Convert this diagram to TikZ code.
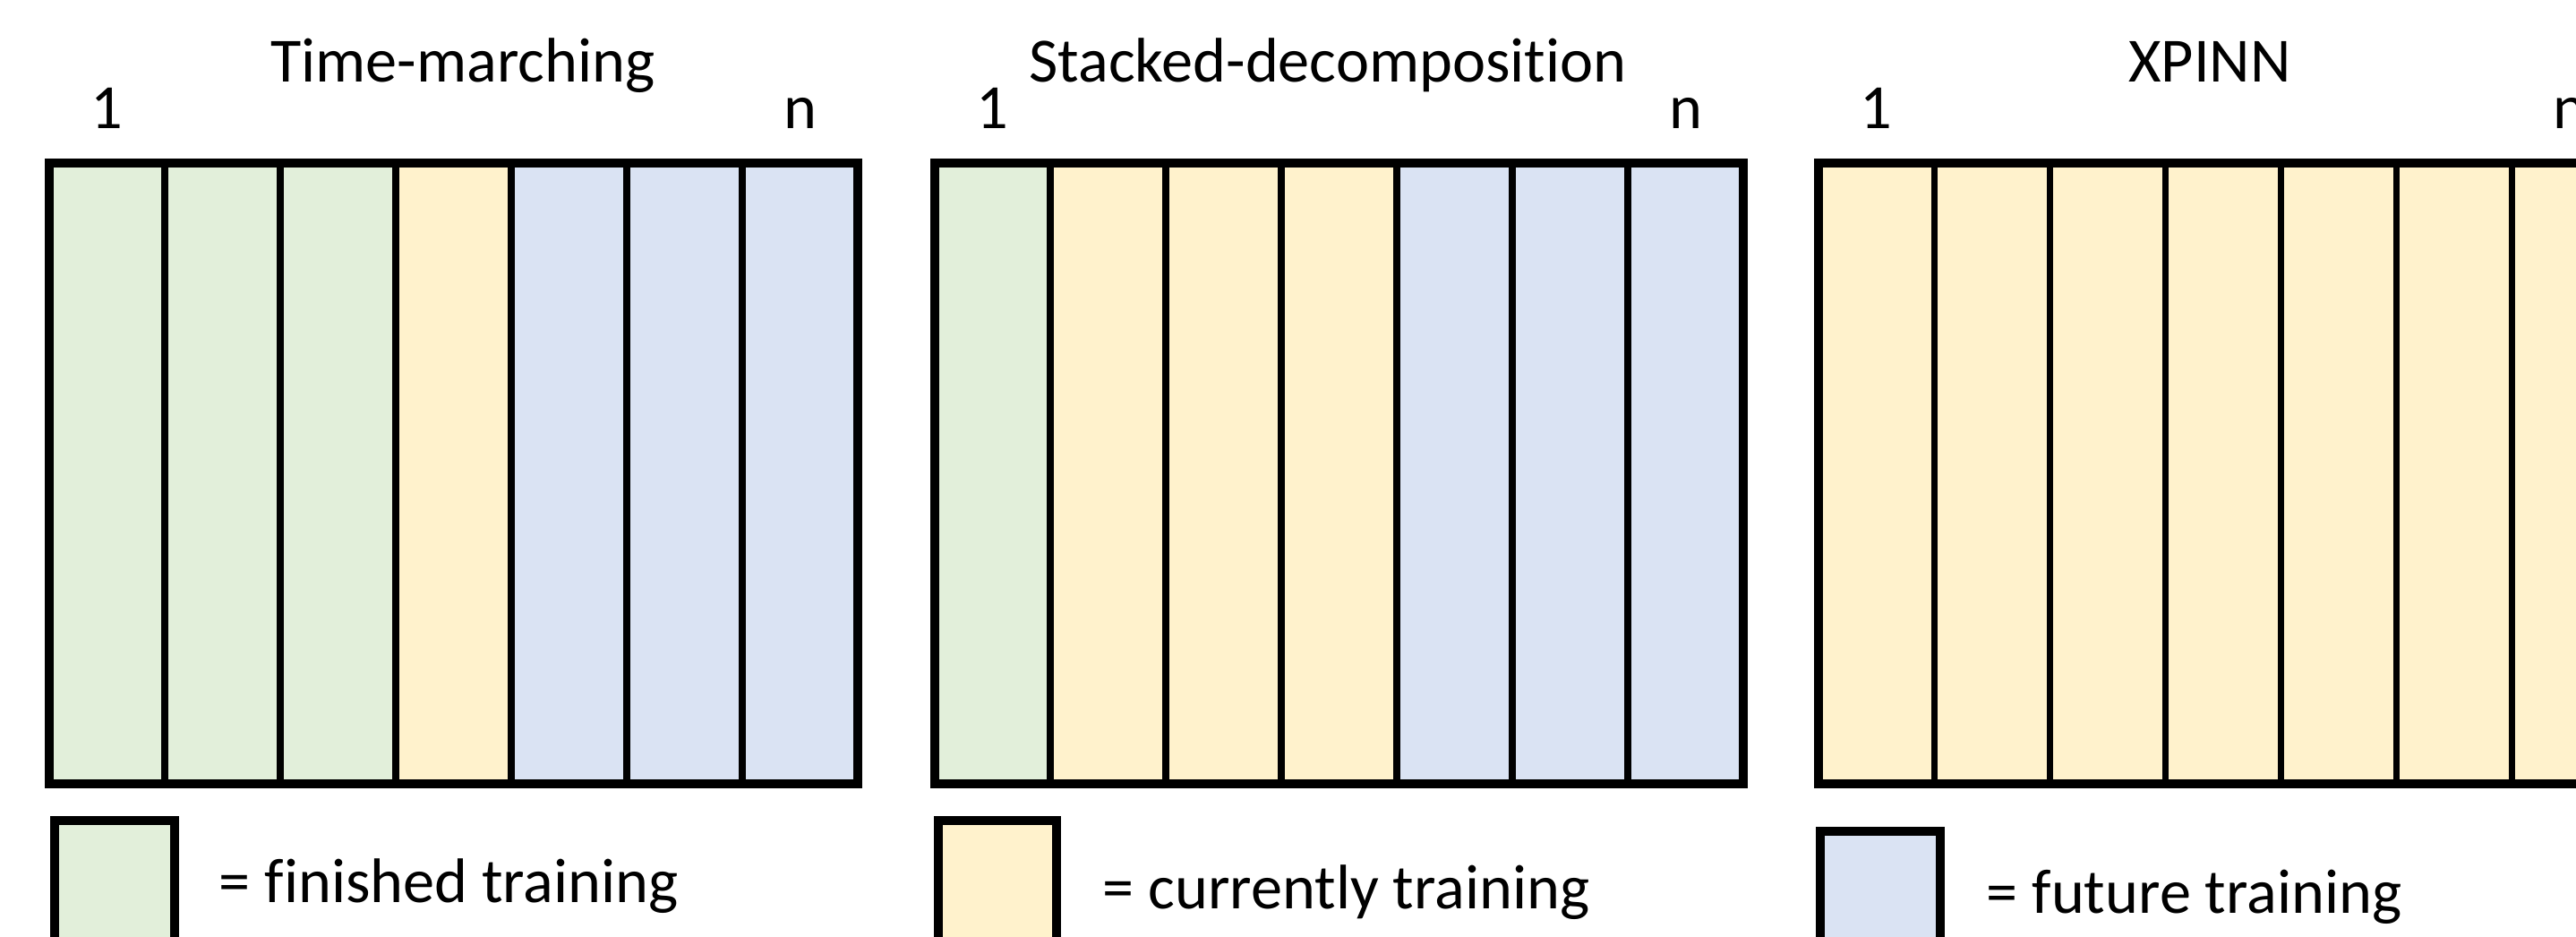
\documentclass[tikz,border=0pt]{standalone}
\usepackage{fontspec}
\setmainfont{Carlito}[Ligatures=NoCommon]
\definecolor{donegreen}{HTML}{E2EFDA}
\definecolor{nowyellow}{HTML}{FFF2CC}
\definecolor{laterblue}{HTML}{DAE3F3}
\tikzset{
  cell/.style={draw=black,line width=2pt},
  frame/.style={draw=black,line width=2.8pt},
  lbl/.style={font=\fontsize{20}{24}\selectfont,inner sep=0pt,anchor=base},
}
\begin{document}
\begin{tikzpicture}
  \useasboundingbox (0,0) rectangle (28.77,10.46);
  \clip (0,0) rectangle (28.77,10.46);
  \foreach \c [count=\i from 0] in {donegreen,donegreen,donegreen,nowyellow,laterblue,laterblue,laterblue}
    \filldraw[cell,fill=\c] ({0.55+1.29*\i},1.71) rectangle ++(1.29,6.93);
  \foreach \c [count=\i from 0] in {donegreen,nowyellow,nowyellow,nowyellow,laterblue,laterblue,laterblue}
    \filldraw[cell,fill=\c] ({10.44+1.29*\i},1.71) rectangle ++(1.29,6.93);
  \foreach \i in {0,...,6}
    \filldraw[cell,fill=nowyellow] ({20.31+1.29*\i},1.71) rectangle ++(1.29,6.93);
  \foreach \x in {0.55,10.44,20.31}
    \draw[frame] (\x,1.71) rectangle ++(9.03,6.93);
  \node[lbl] (tmtitle) at (5.17,9.54) {Time-marching};
  \node[lbl] (tmfirst) at (1.195,9.02) {1};
  \node[lbl] (tmlast) at (8.935,9.02) {n};
  \node[lbl] (sdtitle) at (14.83,9.54) {Stacked-decomposition};
  \node[lbl] (sdfirst) at (11.085,9.02) {1};
  \node[lbl] (sdlast) at (18.825,9.02) {n};
  \node[lbl] (xptitle) at (24.68,9.54) {XPINN};
  \node[lbl] (xpfirst) at (20.955,9.02) {1};
  \node[lbl] (xplast) at (28.695,9.02) {n};
  \filldraw[frame,fill=donegreen] (0.61,1.30) rectangle (1.95,-0.6);
  \filldraw[frame,fill=nowyellow] (10.48,1.30) rectangle (11.80,-0.6);
  \filldraw[frame,fill=laterblue] (20.33,1.18) rectangle (21.67,-0.6);
  \node[lbl,anchor=base west] (keydone) at (2.44,0.38) {= finished training};
  \node[lbl,anchor=base west] (keynow) at (12.31,0.31) {= currently training};
  \node[lbl,anchor=base west] (keylater) at (22.18,0.26) {= future training};
\end{tikzpicture}
\end{document}
